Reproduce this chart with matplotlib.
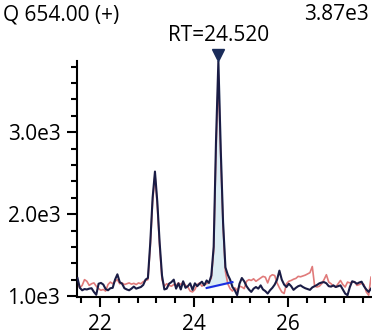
import numpy as np
import matplotlib
matplotlib.use('Agg')
import matplotlib.pyplot as plt
from matplotlib.ticker import MultipleLocator, FuncFormatter

# 시간축 (min)
t_start = 21.52
t_step = 0.05

# navy trace
trace_a = [1220, 1100, 1070, 1085, 1080, 1090, 1095, 1050, 1015, 1150,
           1160, 1140, 1085, 1070, 1095, 1100, 1200, 1265, 1170, 1150,
           1095, 1080, 1070, 1090, 1115, 1090, 1100, 1110, 1135, 1200,
           1220, 1650, 2200, 2520, 2150, 1650, 1250, 1080, 1090, 1150,
           1170, 1200, 1090, 1155, 1080, 1180, 1100, 1120, 1155, 1075,
           1155, 1120, 1150, 1175, 1130, 1190, 1160, 1250, 1600, 2900,
           3870, 2800, 1900, 1350, 1260, 1200, 1110, 1070, 1010, 1150,
           1220, 1180, 1120, 1080, 1050, 1090, 1110, 1090, 1130, 1080,
           1060, 1030, 1070, 1100, 1140, 1200, 1310, 1200, 1140, 1110,
           1150, 1120, 1075, 1100, 1120, 1130, 1110, 1095, 1085, 1075,
           1105, 1120, 1135, 1155, 1165, 1170, 1155, 1120, 1115, 1130,
           1110, 1120, 1130, 1080, 1030, 1010, 1110, 1180, 1170, 1150,
           1165, 1175, 1120, 1080, 1050, 1090]

# red trace
trace_b = [1150, 1100, 1130, 1200, 1180, 1130, 1150, 1160, 1120, 1090,
           1070, 1080, 1060, 1140, 1170, 1150, 1180, 1200, 1150, 1160,
           1140, 1150, 1160, 1145, 1155, 1140, 1160, 1150, 1175, 1190,
           1200, 1600, 2150, 2480, 2100, 1600, 1200, 1120, 1150, 1130,
           1120, 1140, 1130, 1160, 1140, 1170, 1130, 1110, 1060, 1050,
           1080, 1140, 1160, 1120, 1140, 1150, 1170, 1220, 1550, 2750,
           3700, 2700, 1850, 1300, 1150, 1090, 1060, 1100, 1070, 1120,
           1110, 1090, 1180, 1200, 1190, 1210, 1180, 1200, 1220, 1240,
           1230, 1160, 1240, 1260, 1250, 1160, 1100, 1050, 1030, 1150,
           1180, 1190, 1205, 1215, 1240, 1235, 1245, 1255, 1270, 1285,
           1360, 1120, 1110, 1120, 1150, 1200, 1260, 1170, 1150, 1120,
           1110, 1150, 1190, 1140, 1110, 1170, 1160, 1170, 1175, 1130,
           1140, 1155, 1140, 1050, 1010, 1230]

# 적분 구간 / baseline
peak_rt = 24.52
base_t = [24.27, 24.82]
base_y = [1098, 1170]

title_left = 'Q 654.00 (+)'
title_right = '3.87e3'

t = np.round(t_start + t_step * np.arange(len(trace_a)), 3)
a = np.array(trace_a)
b = np.array(trace_b)

plt.rcParams['font.family'] = ['Open Sans', 'DejaVu Sans']
fs = 15

fig = plt.figure(figsize=(3.72, 3.36), dpi=100)
ax = fig.add_axes([77 / 372, 39 / 336, 294 / 372, 236 / 336])

ax.plot(t, b, color='#e07a7a', lw=1.2, zorder=2)
ax.plot(t, a, color='#1a1c45', lw=1.5, zorder=3)

# 피크 면적 채우기
m = (t >= base_t[0]) & (t <= base_t[1])
bl = np.interp(t[m], base_t, base_y)
ax.fill_between(t[m], bl, a[m], color='#dcedf4', zorder=1)
ax.plot(base_t, base_y, color='#1a2ee0', lw=1.5, zorder=4)

ax.set_xlim(21.51, 27.77)
ax.set_ylim(988, 3870)

ax.plot(peak_rt, 3940, 'v', color='#1a2c5a', ms=9, clip_on=False, zorder=5)
ax.text(peak_rt, 4180, 'RT=24.520', ha='center', va='center', fontsize=fs)

fig.text(3 / 372, 1 - 15 / 336, title_left, ha='left', va='center', fontsize=fs)
fig.text(369 / 372, 1 - 15 / 336, title_right, ha='right', va='center', fontsize=fs)

for s in ['top', 'right']:
    ax.spines[s].set_visible(False)
for s in ['left', 'bottom']:
    ax.spines[s].set_linewidth(1.5)

ax.xaxis.set_major_locator(MultipleLocator(2))
ax.xaxis.set_minor_locator(MultipleLocator(0.4))
ax.yaxis.set_major_locator(MultipleLocator(1000))
ax.yaxis.set_minor_locator(MultipleLocator(200))
ax.yaxis.set_major_formatter(FuncFormatter(lambda v, p: '%.1fe3' % (v / 1000)))

ax.tick_params(which='major', length=7, width=1.5, labelsize=fs, pad=5)
ax.tick_params(which='minor', length=4, width=1.5)

plt.savefig('out.png', dpi=100)
